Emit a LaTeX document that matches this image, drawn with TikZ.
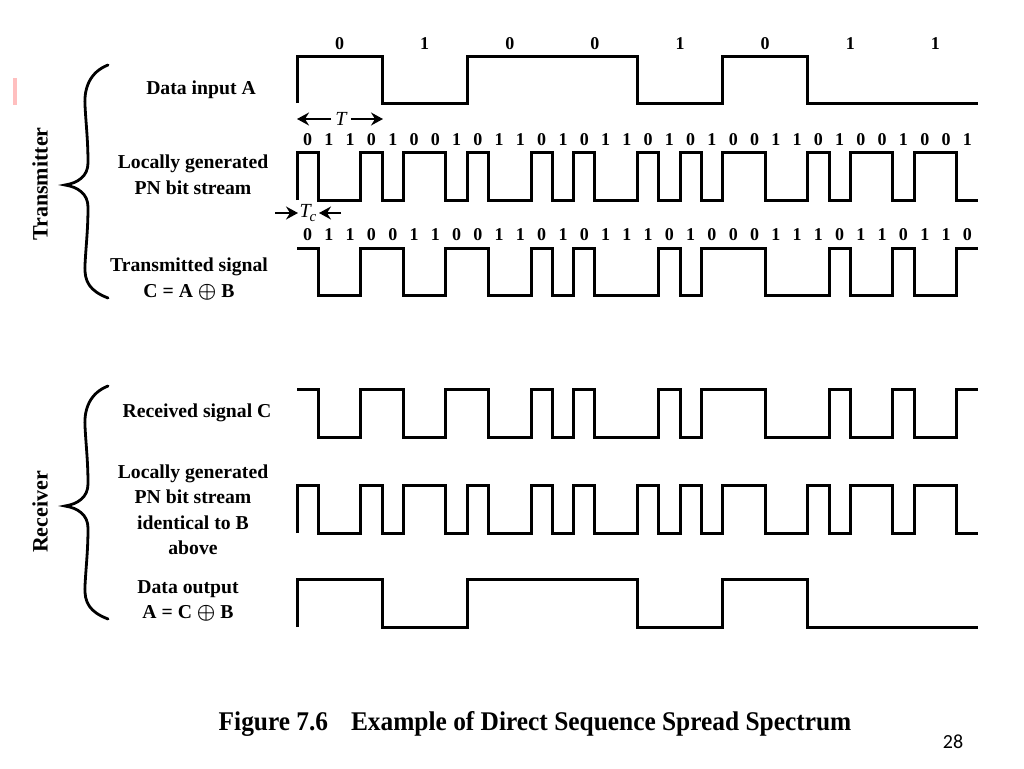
\documentclass[tikz,border=0pt]{standalone}
\usepackage{fontspec}
\setmainfont{Liberation Serif}
\newfontfamily\pagefont{Carlito}
\usetikzlibrary{arrows.meta}

\tikzset{
  wave/.style={line width=3pt, line join=miter},
  bracepath/.style={line width=2.8pt, line cap=round},
  sidelbl/.style={font=\fontsize{19.7}{25.5}\selectfont\bfseries, align=center, inner sep=0pt},
  grouplbl/.style={font=\fontsize{22}{22}\selectfont\bfseries, inner sep=0pt, rotate=90},
  bitlbl/.style={font=\fontsize{18}{18}\selectfont\bfseries, inner sep=0pt},
  dimlbl/.style={font=\fontsize{20}{20}\selectfont\itshape, inner sep=4pt},
  dimarrow/.style={line width=1.8pt, -{Stealth[length=12pt,width=13pt,inset=4pt]}},
  curly/.pic={
    \draw[bracepath] (43,-120) .. controls (25,-113) and (19,-97) .. (20,-80)
      .. controls (21,-60) and (23,-45) .. (23,-22) .. controls (23,-9) and (13,-2) .. (0,0)
      .. controls (13,2) and (23,9) .. (23,22) .. controls (23,45) and (21,60) .. (20,80)
      .. controls (19,97) and (25,106) .. (43,113);
  }
}
\newcommand\chipw{21.28}
% #1 high y, #2 low y, #3 step, #4 level before start, #5 bits (0 = high)
\newcommand\sigwave[5]{%
  \draw[wave] (297,{#1+#4*(#2-#1)})
    \foreach \bit [count=\i from 0] in {#5}
      { -- ({297+\i*#3},{#1+\bit*(#2-#1)}) -- ({297+(\i+1)*#3},{#1+\bit*(#2-#1)}) };}

\begin{document}
\begin{tikzpicture}[x=1pt,y=-1pt]
  \useasboundingbox (0,0) rectangle (1024,768);
  \fill[red!25] (13,78) rectangle (17,105);

  % braces and group names
  \pic at (65,185) {curly};
  \pic at (65,506) {curly};
  \node[grouplbl] (txgrp) at (40,184) {Transmitter};
  \node[grouplbl] (rxgrp) at (40,512) {Receiver};

  % row names
  \node[sidelbl] (datain) at (201,90) {Data input A};
  \node[sidelbl] (pnlbl) at (193,175) {Locally generated\\PN bit stream};
  \node[sidelbl] (txlbl) at (189,279) {Transmitted signal\\C = A {\boldmath$\oplus$} B};
  \node[sidelbl] (rxlbl) at (197,413) {Received signal C};
  \node[sidelbl] (rxpnlbl) at (193,510) {Locally generated\\PN bit stream\\identical to B\\above};
  \node[sidelbl] (outlbl) at (188,601) {Data output\\A = C {\boldmath$\oplus$} B};

  % bit values
  \foreach \bit [count=\i from 0] in {0,1,0,0,1,0,1,1}
    \node[bitlbl] (a\i) at ({297+(\i+0.5)*85.12},44) {\bit};
  \foreach \bit [count=\i from 0] in {0,1,1,0,1,0,0,1,0,1,1,0,1,0,1,1,0,1,0,1,0,0,1,1,0,1,0,0,1,0,0,1}
    \node[bitlbl] (b\i) at ({297+(\i+0.5)*\chipw},140) {\bit};
  \foreach \bit [count=\i from 0] in {0,1,1,0,0,1,1,0,0,1,1,0,1,0,1,1,1,0,1,0,0,0,1,1,1,0,1,1,0,1,1,0}
    \node[bitlbl] (c\i) at ({297+(\i+0.5)*\chipw},235) {\bit};

  % waveforms
  \sigwave{57}{103}{85.12}{1}{0,1,0,0,1,0,1,1}
  \sigwave{152}{200}{\chipw}{1}{0,1,1,0,1,0,0,1,0,1,1,0,1,0,1,1,0,1,0,1,0,0,1,1,0,1,0,0,1,0,0,1}
  \sigwave{248}{295}{\chipw}{0}{0,1,1,0,0,1,1,0,0,1,1,0,1,0,1,1,1,0,1,0,0,0,1,1,1,0,1,1,0,1,1,0}
  \sigwave{389}{437}{\chipw}{0}{0,1,1,0,0,1,1,0,0,1,1,0,1,0,1,1,1,0,1,0,0,0,1,1,1,0,1,1,0,1,1,0}
  \sigwave{485}{533}{\chipw}{1}{0,1,1,0,1,0,0,1,0,1,1,0,1,0,1,1,0,1,0,1,0,0,1,1,0,1,0,0,1,0,0,1}
  \sigwave{579}{627}{85.12}{1}{0,1,0,0,1,0,1,1}

  % bit and chip periods
  \node[dimlbl] (tlbl) at (341,119) {T};
  \coordinate (t0) at (297,119);
  \coordinate (t1) at (383,119);
  \draw[dimarrow] (tlbl) -- (t0);
  \draw[dimarrow] (tlbl) -- (t1);
  \node[dimlbl, inner sep=0pt] (tclbl) at (308,213) {T\kern-1pt\raisebox{-4pt}{\fontsize{15}{15}\selectfont c}};
  \coordinate (tc0) at (275,213);
  \coordinate (tcl) at (298,213);
  \coordinate (tc1) at (341,213);
  \coordinate (tcr) at (319,213);
  \draw[dimarrow] (tc0) -- (tcl);
  \draw[dimarrow] (tc1) -- (tcr);

  % caption
  \node[font=\fontsize{27}{27}\selectfont\bfseries] (caption) at (535,724)
    {\scalebox{0.94}[1]{Figure 7.6\hspace{0.9em}Example of Direct Sequence Spread Spectrum}};
  \node[font=\pagefont\fontsize{20}{20}\selectfont] (pageno) at (953,742) {28};
\end{tikzpicture}
\end{document}
